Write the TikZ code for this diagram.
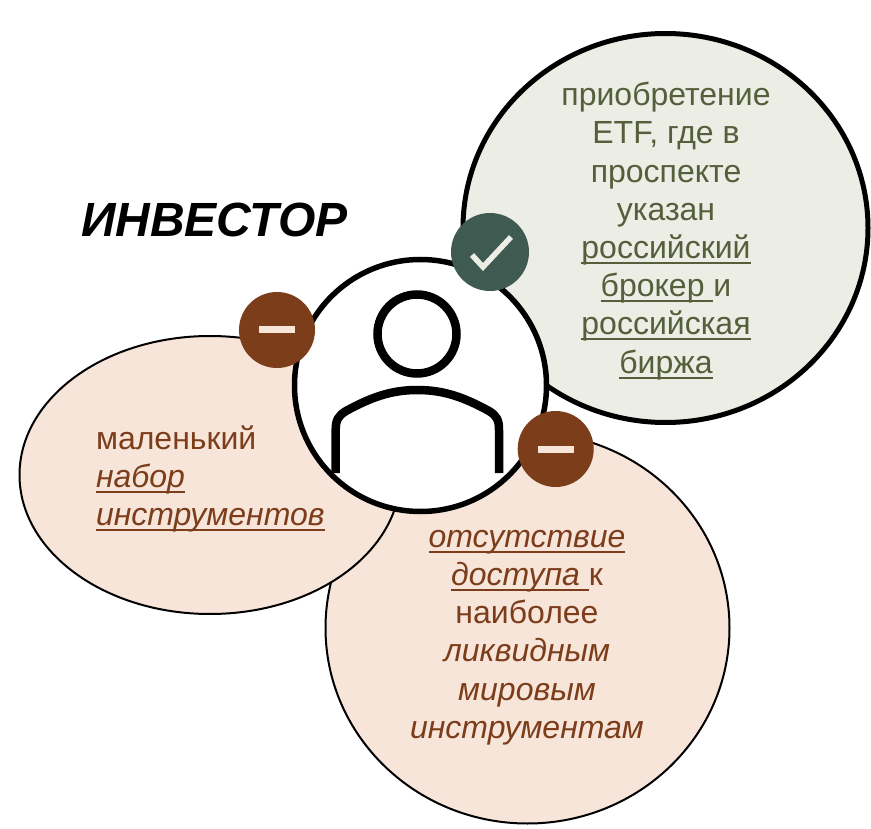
\documentclass[tikz,border=0pt]{standalone}
\usepackage{fontspec}
\usetikzlibrary{shapes.geometric}
\setmainfont{Liberation Sans}
\definecolor{brownc}{HTML}{7B3D1A}
\definecolor{peach}{HTML}{F8E5DA}
\definecolor{sage}{HTML}{ECEDE4}
\definecolor{olive}{HTML}{555F3C}
\definecolor{teal}{HTML}{3F5B51}
\newcommand{\ulx}[1]{\leavevmode\setbox0=\hbox{#1}\rlap{\rule[-5.5pt]{\wd0}{2pt}}\box0 }
\tikzset{
  x=1pt,y=-1pt,
  badge/.style={circle,inner sep=0pt,outer sep=0pt,minimum size=#1},
  body/.style={font=\fontsize{32}{38.2}\selectfont,inner sep=0pt,outer sep=0pt},
  minus bar/.style={fill=peach,draw=none,inner sep=0pt,minimum width=36pt,minimum height=7pt},
  person/.style={draw=black,line width=8.5pt}
}
\begin{document}
\begin{tikzpicture}
\useasboundingbox (0,0) rectangle (871,829);
\node[draw=black,line width=2pt,fill=peach,ellipse,inner sep=0pt,minimum width=404pt,minimum height=391pt] (low) at (527.5,628) {};
\node[draw=black,line width=2pt,fill=peach,ellipse,inner sep=0pt,minimum width=381pt,minimum height=278pt] (left) at (210,475) {};
\node[draw=black,line width=5pt,fill=sage,ellipse,inner sep=0pt,minimum width=405pt,minimum height=389pt] (top) at (665.5,228) {};
\node[draw=black,line width=5.5pt,fill=white,circle,inner sep=0pt,minimum size=252pt] (main) at (420.5,385.5) {};
\node[draw=black,line width=8.5pt,circle,inner sep=0pt,minimum size=79pt] (head) at (417,334) {};
\coordinate (bl) at (335.7,473);
\coordinate (br) at (499,473);
\draw[person] (bl) -- (335.7,430) .. controls (335.7,420) and (338,416) .. (346,411) .. controls (370,398) and (390,390) .. (417.4,390) .. controls (445,390) and (465,398) .. (489,411) .. controls (497,416) and (499,420) .. (499,430) -- (br);
\node[badge=78pt,fill=teal] (ok) at (490,252) {};
\node[badge=76pt,fill=brownc] (mr) at (555.7,449) {};
\node[badge=76pt,fill=brownc] (ml) at (277,330) {};
\node[minus bar] at (mr) {};
\node[minus bar] at (ml) {};
\draw[sage,line width=5.5pt] ([shift={(-18,3)}]ok.center) -- ([shift={(-7,15)}]ok.center) -- ([shift={(21,-15)}]ok.center);
\node[body,text=olive,align=center,anchor=center] (ttop) at (666,231) {приобретение\\ETF, где в\\проспекте\\указан\\\ulx{российский}\\\ulx{брокер\ }и\\\ulx{российская}\\\ulx{биржа}};
\node[body,text=brownc,align=left,anchor=west] (tleft) at (96,479) {маленький\\\ulx{\itshape набор}\\\ulx{\itshape инструментов}};
\node[body,text=brownc,align=center,anchor=center] (tlow) at (527,637.5) {\ulx{\itshape отсутствие}\\\ulx{\itshape доступа\ }к\\наиболее\\\textit{ликвидным}\\\textit{мировым}\\\textit{инструментам}};
\node[font=\fontsize{48}{50}\selectfont\bfseries\itshape,inner sep=0pt] (title) at (214.5,220) {ИНВЕСТОР};
\end{tikzpicture}
\end{document}
